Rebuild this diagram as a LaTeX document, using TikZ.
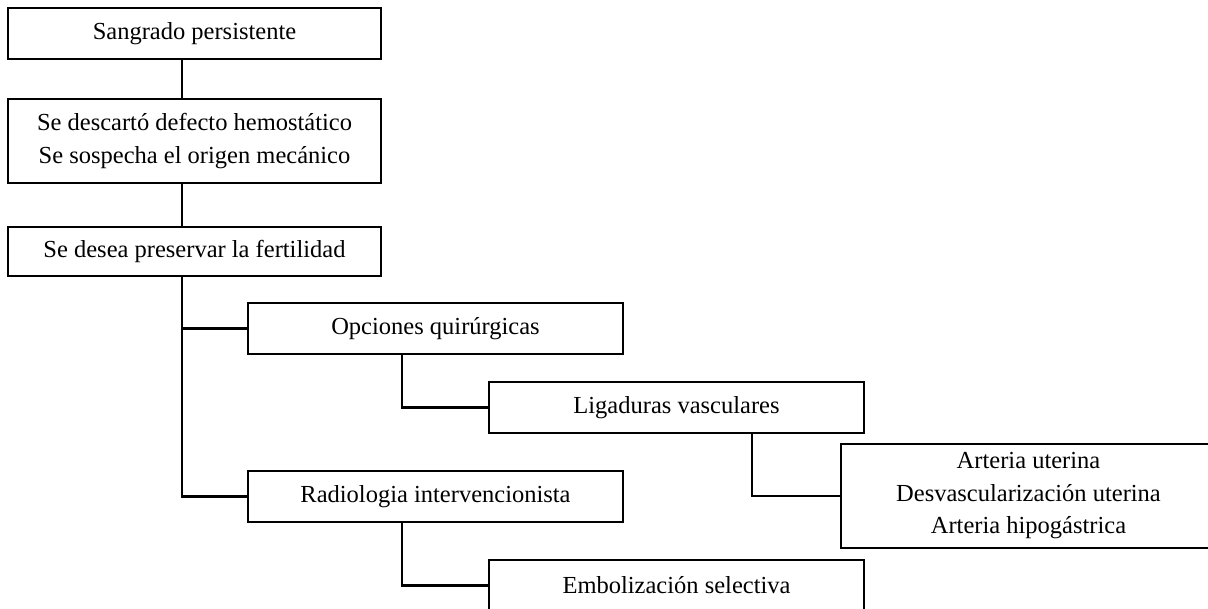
\documentclass[tikz,border=0pt]{standalone}
\usepackage{fontspec}
\setmainfont{Liberation Serif}
\begin{document}
\begin{tikzpicture}[x=1pt,y=-1pt,
  box/.style={draw=black,line width=2.5pt,fill=white,rectangle,align=center,
    minimum width=375pt,inner sep=0pt,font=\fontsize{24.5}{32.5}\selectfont},
  conn/.style={draw=black,line width=2.5pt,line cap=rect}]
\clip (0,0) rectangle (1208,609);
\useasboundingbox (0,0) rectangle (1208,609);
\fill[white] (0,0) rectangle (1208,609);
\node[box,minimum width=373pt,minimum height=51pt] (b1) at (194.5,33.5) {Sangrado persistente};
\node[box,minimum width=373pt,minimum height=84pt] (b2) at (194.5,141) {Se descartó defecto hemostático\\Se sospecha el origen mecánico};
\node[box,minimum width=373pt,minimum height=49pt] (b3) at (194.5,251.5) {Se desea preservar la fertilidad};
\node[box,minimum height=51pt] (b4) at (435.5,328.5) {Opciones quirúrgicas};
\node[box,minimum height=51pt] (b5) at (676.5,407.5) {Ligaduras vasculares};
\node[box,minimum height=104pt] (b6) at (1028.5,496) {Arteria uterina\\Desvascularización uterina\\Arteria hipogástrica};
\node[box,minimum height=51pt] (b7) at (435.5,496.5) {Radiologia intervencionista};
\node[box,minimum height=51pt] (b8) at (676.5,585.5) {Embolización selectiva};
\coordinate (t1) at (182,0);
\coordinate (t2) at (402,0);
\coordinate (t3) at (752,0);
\draw[conn] (b1.south -| t1) -- (b2.north -| t1);
\draw[conn] (b2.south -| t1) -- (b3.north -| t1);
\draw[conn] (b3.south -| t1) -- (b7.west -| t1) -- (b7.west);
\draw[conn] (b4.west -| t1) -- (b4.west);
\draw[conn] (b4.south -| t2) -- (b5.west -| t2) -- (b5.west);
\draw[conn] (b7.south -| t2) -- (b8.west -| t2) -- (b8.west);
\draw[conn] (b5.south -| t3) -- (b6.west -| t3) -- (b6.west);
\end{tikzpicture}
\end{document}
